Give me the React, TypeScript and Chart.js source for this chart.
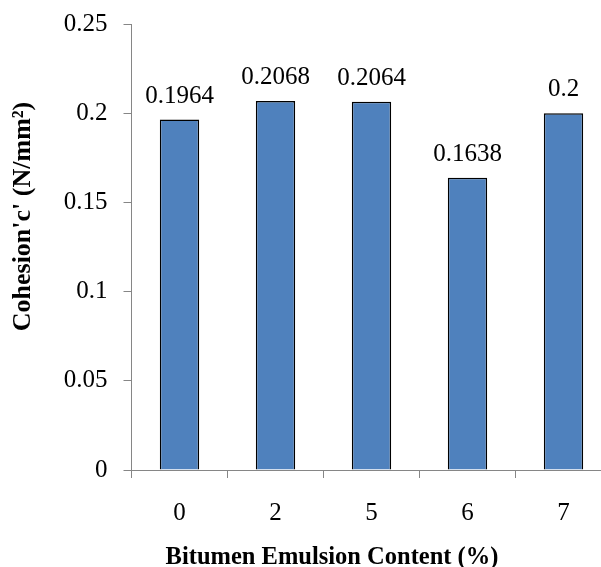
import React, { useEffect, useRef } from "react";
import { Chart, registerables } from "chart.js";

Chart.register(...registerables);

const categories = ["0", "2", "5", "6", "7"];
const cohesion = [0.1964, 0.2068, 0.2064, 0.1638, 0.2];
const yMin = 0;
const yMax = 0.25;
const yStep = 0.05;
const xTitle = "Bitumen Emulsion Content (%)";
const yTitle = "Cohesion'c' (N/mm\u00B2)";

const SERIF = "'Liberation Serif', 'Times New Roman', serif";
const AXIS_GREY = "#868686";
const BAR_BLUE = "#4F81BD";

const CANVAS_W = 620;
const CANVAS_H = 567;

const valueLabels = {
  id: "valueLabels",
  afterDatasetsDraw(chart: any) {
    const ctx = chart.ctx;
    const meta = chart.getDatasetMeta(0);
    const data = chart.data.datasets[0].data;
    ctx.save();
    ctx.font = `25px ${SERIF}`;
    ctx.fillStyle = "#000";
    ctx.textAlign = "center";
    ctx.textBaseline = "alphabetic";
    meta.data.forEach((bar: any, i: number) => {
      ctx.fillText(String(data[i]), bar.x, bar.y - 17);
    });
    ctx.restore();
  },
};

const axisTitles = {
  id: "axisTitles",
  afterDraw(chart: any) {
    const ctx = chart.ctx;
    ctx.save();
    ctx.fillStyle = "#000";
    ctx.font = `bold 24.5px ${SERIF}`;
    ctx.textAlign = "center";
    ctx.textBaseline = "alphabetic";
    ctx.fillText(xTitle, 332, 564);
    ctx.font = `bold 26px ${SERIF}`;
    ctx.translate(23, 216.5);
    ctx.rotate(-Math.PI / 2);
    ctx.textBaseline = "middle";
    ctx.fillText(yTitle, 0, 0);
    ctx.restore();
  },
};

export default function App() {
  const canvasRef = useRef<HTMLCanvasElement | null>(null);

  useEffect(() => {
    document.body.style.margin = "0";
    document.body.style.overflow = "hidden";
    const canvas = canvasRef.current;
    if (!canvas) return;
    const chart = new Chart(canvas, {
      type: "bar",
      data: {
        labels: categories,
        datasets: [
          {
            data: cohesion,
            backgroundColor: BAR_BLUE,
            borderColor: "#000",
            borderWidth: 1.5,
            categoryPercentage: 1,
            barPercentage: 0.41,
          },
        ],
      },
      options: {
        animation: false,
        responsive: false,
        devicePixelRatio: 1,
        layout: { padding: { top: 24, right: CANVAS_W - 611.5, left: 0, bottom: 0 } },
        plugins: {
          legend: { display: false },
          tooltip: { enabled: false },
          title: { display: false },
        },
        scales: {
          x: {
            type: "category",
            offset: true,
            grid: {
              display: true,
              drawOnChartArea: false,
              drawTicks: true,
              tickLength: 8,
              color: AXIS_GREY,
              offset: true,
            },
            border: { color: AXIS_GREY, width: 1 },
            ticks: {
              color: "#000",
              font: { family: SERIF, size: 25 },
              padding: 20,
            },
            afterFit: (s: any) => {
              s.height = 97;
            },
          },
          y: {
            min: yMin,
            max: yMax,
            grid: {
              display: true,
              drawOnChartArea: false,
              drawTicks: true,
              tickLength: 8,
              color: AXIS_GREY,
            },
            border: { color: AXIS_GREY, width: 1 },
            ticks: {
              stepSize: yStep,
              color: "#000",
              font: { family: SERIF, size: 25, lineHeight: 0.6 },
              padding: 16,
              callback: (v: any) => String(Number(Number(v).toFixed(2))),
            },
            afterFit: (s: any) => {
              s.width = 131.5;
            },
          },
        },
      },
      plugins: [valueLabels, axisTitles],
    });
    return () => chart.destroy();
  }, []);

  return (
    <div style={{ width: CANVAS_W, height: CANVAS_H, position: "relative" }}>
      <canvas
        ref={canvasRef}
        width={CANVAS_W}
        height={CANVAS_H}
        style={{ width: CANVAS_W, height: CANVAS_H, display: "block" }}
      />
    </div>
  );
}
